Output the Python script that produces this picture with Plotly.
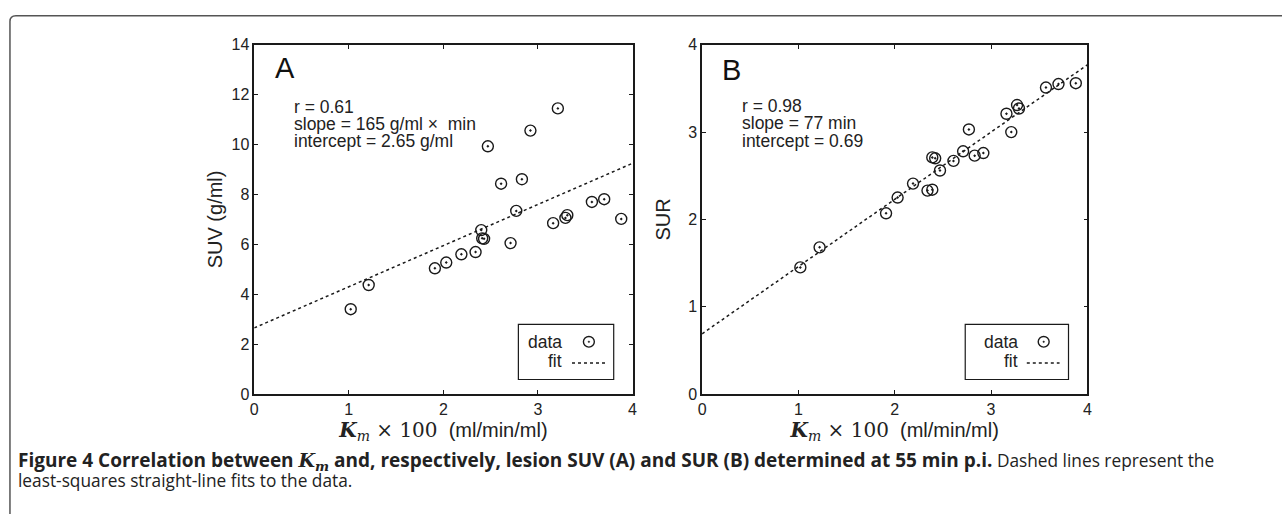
import plotly.graph_objects as go

# ---- data ----
km100 = [1.02, 1.21, 1.91, 2.03, 2.19, 2.34, 2.40, 2.41, 2.43, 2.47, 2.61,
         2.71, 2.77, 2.83, 2.92, 3.16, 3.21, 3.29, 3.31, 3.57, 3.70, 3.88]
suv = [3.40, 4.37, 5.04, 5.27, 5.60, 5.69, 6.57, 6.24, 6.22, 9.93, 8.43,
       6.05, 7.34, 8.61, 10.56, 6.85, 11.45, 7.06, 7.17, 7.70, 7.81, 7.02]
km100_b = [1.02, 1.22, 1.91, 2.03, 2.19, 2.34, 2.39, 2.39, 2.42, 2.47, 2.61,
           2.71, 2.77, 2.83, 2.92, 3.16, 3.21, 3.27, 3.29, 3.57, 3.70, 3.88]
sur = [1.45, 1.68, 2.07, 2.25, 2.41, 2.33, 2.34, 2.71, 2.70, 2.56, 2.67,
       2.78, 3.03, 2.73, 2.76, 3.21, 3.00, 3.31, 3.27, 3.51, 3.55, 3.56]
fit_x = [0, 4]
fit_suv = [2.65, 9.25]
fit_sur = [0.69, 3.77]
x_ticks = [0, 1, 2, 3, 4]
suv_ticks = [0, 2, 4, 6, 8, 10, 12, 14]
sur_ticks = [0, 1, 2, 3, 4]
stats_a = ["r = 0.61", "slope = 165 g/ml ×  min", "intercept = 2.65 g/ml"]
stats_b = ["r = 0.98", "slope = 77 min", "intercept = 0.69"]

W, H = 1287, 523
def X(px):
    return px / W
def Y(py):
    return 1 - py / H

SANS = "Liberation Sans, Arial, sans-serif"
INK = "#1a1a1a"
TXT = "#222"

fig = go.Figure()
mk = dict(symbol="circle-open-dot", size=11, color=INK, line=dict(width=1.4, color=INK))
fig.add_trace(go.Scatter(x=km100, y=suv, mode="markers", marker=mk, name="data",
                         xaxis="x", yaxis="y", showlegend=False))
fig.add_trace(go.Scatter(x=fit_x, y=fit_suv, mode="lines", name="fit",
                         line=dict(color=INK, width=1.5, dash="dot"),
                         xaxis="x", yaxis="y", showlegend=False))
fig.add_trace(go.Scatter(x=km100_b, y=sur, mode="markers", marker=mk, name="data",
                         xaxis="x2", yaxis="y2", showlegend=False))
fig.add_trace(go.Scatter(x=fit_x, y=fit_sur, mode="lines", name="fit",
                         line=dict(color=INK, width=1.5, dash="dot"),
                         xaxis="x2", yaxis="y2", showlegend=False))

xtitle = ("<span style='font-family:DejaVu Serif'><b><i>K</i></b><sub><i>m</i></sub>"
          " × 100</span>  (ml/min/ml)")

ax_common = dict(showgrid=False, zeroline=False, showline=True, linecolor=INK,
                 linewidth=1.5, mirror="ticks", ticks="inside", ticklen=4,
                 tickwidth=1, tickcolor=INK,
                 tickfont=dict(family=SANS, size=16, color=TXT))
tfont = dict(family=SANS, size=20, color=TXT)

ydom = [Y(399), Y(38)]
fig.update_layout(
    width=W, height=H,
    margin=dict(l=0, r=0, t=0, b=0),
    paper_bgcolor="white", plot_bgcolor="white",
    xaxis=dict(domain=[X(252), X(633)], range=[0, 4], tickvals=x_ticks, anchor="y",
               title=dict(text=xtitle, font=tfont, standoff=6), **ax_common),
    yaxis=dict(domain=ydom, range=[0, 14], tickvals=suv_ticks, anchor="x",
               title=dict(text="SUV (g/ml)", font=tfont, standoff=3), **ax_common),
    xaxis2=dict(domain=[X(703), X(1091)], range=[0, 4], tickvals=x_ticks, anchor="y2",
                title=dict(text=xtitle, font=tfont, standoff=6), **ax_common),
    yaxis2=dict(domain=ydom, range=[0, 4], tickvals=sur_ticks, anchor="x2",
                title=dict(text="SUR", font=tfont, standoff=12), **ax_common),
)

anns = []
# panel letters
anns.append(dict(text="A", x=X(271), y=Y(62), xref="paper", yref="paper", xanchor="left",
                 yanchor="middle", showarrow=False, font=dict(family=SANS, size=29, color="#111")))
anns.append(dict(text="B", x=X(721), y=Y(64), xref="paper", yref="paper", xanchor="left",
                 yanchor="middle", showarrow=False, font=dict(family=SANS, size=29, color="#111")))
# statistics
for i, t in enumerate(stats_a):
    anns.append(dict(text=t, x=X(290), y=Y(102 + 17.5 * i), xref="paper", yref="paper",
                     xanchor="left", yanchor="middle", showarrow=False,
                     font=dict(family=SANS, size=17.5, color=TXT)))
for i, t in enumerate(stats_b):
    anns.append(dict(text=t, x=X(741), y=Y(101 + 18 * i), xref="paper", yref="paper",
                     xanchor="left", yanchor="middle", showarrow=False,
                     font=dict(family=SANS, size=17.5, color=TXT)))

shapes = []
# legends (drawn manually: text left, symbol right)
for (bx0, bx1, tx, sx, lx0, lx1) in [(518, 614, 564, 589, 572, 606),
                                      (968, 1072, 1023, 1047, 1030, 1063)]:
    shapes.append(dict(type="rect", xref="paper", yref="paper", x0=X(bx0), x1=X(bx1),
                       y0=Y(384), y1=Y(327), line=dict(color=INK, width=1.2),
                       fillcolor="white", layer="above"))
    anns.append(dict(text="data", x=X(tx), y=Y(345), xref="paper", yref="paper",
                     xanchor="right", yanchor="middle", showarrow=False,
                     font=dict(family=SANS, size=17.5, color=TXT)))
    anns.append(dict(text="fit", x=X(tx), y=Y(365), xref="paper", yref="paper",
                     xanchor="right", yanchor="middle", showarrow=False,
                     font=dict(family=SANS, size=17.5, color=TXT)))
    shapes.append(dict(type="circle", xref="paper", yref="paper",
                       x0=X(sx - 5.5), x1=X(sx + 5.5), y0=Y(345 + 5.5), y1=Y(345 - 5.5),
                       line=dict(color=INK, width=1.4), layer="above"))
    shapes.append(dict(type="circle", xref="paper", yref="paper",
                       x0=X(sx - 0.8), x1=X(sx + 0.8), y0=Y(345 + 0.8), y1=Y(345 - 0.8),
                       line=dict(color=INK, width=0.5), fillcolor=INK, layer="above"))
    shapes.append(dict(type="line", xref="paper", yref="paper", x0=X(lx0), x1=X(lx1),
                       y0=Y(367), y1=Y(367), line=dict(color=INK, width=1.5, dash="dot"),
                       layer="above"))

# outer frame (top and left, rounded corner)
fx, fy = 6, 8
shapes.append(dict(type="path", xref="paper", yref="paper",
                   path=(f"M {X(fx)},{Y(H)} L {X(fx)},{Y(fy + 6)} "
                         f"Q {X(fx)},{Y(fy)} {X(fx + 6)},{Y(fy)} L {X(W)},{Y(fy)}"),
                   line=dict(color="#555", width=1.5)))

# caption
cap1 = ("<b><span style='font-size:19px'>Figure 4 Correlation between "
        "<span style='font-family:DejaVu Serif'><i>K</i><sub><i>m</i></sub></span>"
        " and, respectively, lesion SUV (A) and SUR (B) determined at 55 min p.i.</span></b>"
        " Dashed lines represent the")
cap2 = "least-squares straight-line fits to the data."
cfont = dict(family="Open Sans", size=17.3, color=TXT)
anns.append(dict(text=cap1, x=X(12), y=Y(468), xref="paper", yref="paper", xanchor="left",
                 yanchor="middle", showarrow=False, align="left", font=cfont))
anns.append(dict(text=cap2, x=X(12), y=Y(488), xref="paper", yref="paper", xanchor="left",
                 yanchor="middle", showarrow=False, align="left", font=cfont))

fig.update_layout(annotations=anns, shapes=shapes)
fig.write_html("out.html", config={"displayModeBar": False},
               post_script="document.body.style.margin='0';")
